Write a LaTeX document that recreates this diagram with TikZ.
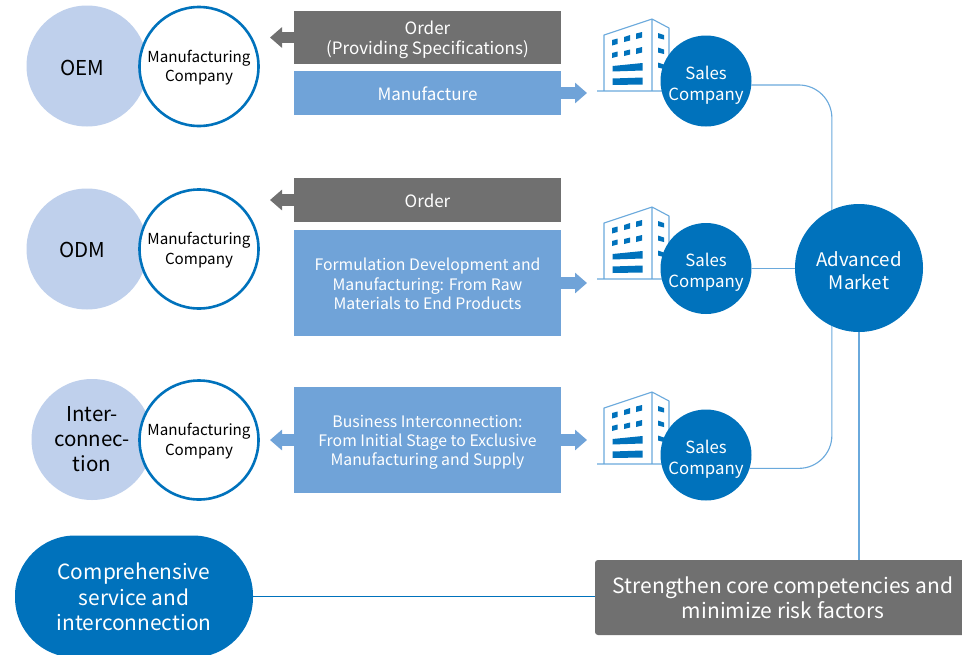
\documentclass[tikz,border=0pt]{standalone}
\usepackage{fontspec}
\setmainfont{Noto Sans CJK KR}
\usetikzlibrary{arrows.meta}
\definecolor{dkblue}{HTML}{0072BC}
\definecolor{ltblue}{HTML}{70A3D8}
\definecolor{linkblue}{HTML}{6AA9DC}
\definecolor{pale}{HTML}{BFD0EC}
\definecolor{greybox}{HTML}{707070}
\newcommand{\fsz}[2]{\fontsize{#1}{#2}\selectfont}
\newcommand{\factory}[1]{%
 \begin{scope}[yshift=-#1pt]
  \draw[linkblue,line width=1.1pt,line join=round]
    (604,91) -- (604,35) -- (652,19) -- (669,28) -- (669,80)
    (652,19) -- (652,91) (597,91) -- (672,91);
  \fill[dkblue] (612,40)--(617.5,38.5)--(617.5,44)--(612,45.5)--cycle
    (624,37)--(630,35)--(630,40.5)--(624,42)--cycle
    (636,33.5)--(642,32)--(642,37.5)--(636,39)--cycle
    (612,53)--(617.5,51.5)--(617.5,56.5)--(612,58)--cycle
    (624,51)--(630,49.5)--(630,54.5)--(624,56)--cycle
    (636,48.5)--(642,47)--(642,52.5)--(636,54)--cycle
    (658,33)--(664,35)--(664,39.5)--(658,38)--cycle
    (658,47.5)--(664,49.5)--(664,54)--(658,52.5)--cycle
    (658,62.5)--(664,64.5)--(664,69)--(658,67.5)--cycle
    (612.5,66)--(642.5,63)--(642.5,70.5)--(612.5,71.5)--cycle
    (612.5,78.5)--(642.5,77.5)--(642.5,84.5)--(612.5,85)--cycle;
 \end{scope}}
\tikzset{
 base/.style={inner sep=0pt,align=center,text=white},
 dn/.style 2 args={execute at begin node={\rule{0pt}{\dimexpr.78em+#2\baselineskip+2\dimexpr#1\relax\relax}}},
 pale circle/.style={base,circle,fill=pale,minimum size=#1,text=black,font=\fsz{20.5}{25}},
 maker/.style={base,circle,draw=dkblue,line width=2.6pt,fill=white,minimum size=119pt,text=black,font=\fsz{15.2}{19.5},dn={1.5pt}{1}},
 sales/.style={base,circle,fill=dkblue,minimum size=91pt,font=\fsz{16.8}{21},dn={4pt}{1}},
 greyrect/.style={base,fill=greybox,minimum width=267pt},
 bluerect/.style={base,fill=ltblue,minimum width=267pt},
 blockleft/.style={greybox,line width=11.5pt,-{Triangle[length=12pt,width=20pt]}},
 blockright/.style={ltblue,line width=11.5pt,-{Triangle[length=12pt,width=20pt]}},
 blockleftblue/.style={blockright},
 link/.style={linkblue,line width=1.1pt,rounded corners=33pt},
 straight/.style={dkblue,line width=1pt},
}
\begin{document}
\begin{tikzpicture}[x=1pt,y=-1pt]
\clip (0,0) rectangle (962,654);
\fill[white] (0,0) rectangle (962,654);
% factories
\factory{0}\factory{188}\factory{373}
% left circles
\node[pale circle=121pt,dn={2pt}{0}] (oem) at (87,66) {OEM\hspace*{9pt}};
\node[maker] (m1) at (199,66.5) {Manufacturing\\Company};
\node[pale circle=121pt,dn={1pt}{0}] (odm) at (87,249) {ODM\hspace*{9pt}};
\node[maker] (m2) at (199,249) {Manufacturing\\Company};
\node[pale circle=121pt] (inter) at (92,439.5) {Inter-\\connec-\\tion};
\node[maker] (m3) at (199,440) {Manufacturing\\Company};
% boxes
\node[greyrect,minimum height=53pt,font=\fsz{17}{20},dn={2pt}{1}] (o1) at (427.5,37.5) {Order\\(Providing Specifications)};
\node[bluerect,minimum height=44pt,font=\fsz{17}{20},dn={.5pt}{0}] (b1) at (427.5,93) {Manufacture};
\node[greyrect,minimum height=44pt,font=\fsz{17}{20},dn={.5pt}{0}] (o2) at (427.5,200) {Order};
\node[bluerect,minimum height=106pt,font=\fsz{15.8}{19.5},dn={1pt}{2}] (b2) at (427.5,283) {Formulation Development and\\Manufacturing: From Raw\\Materials to End Products};
\node[bluerect,minimum height=106pt,font=\fsz{15.8}{19},dn={2.5pt}{2}] (b3) at (427.5,440) {Business Interconnection:\\From Initial Stage to Exclusive\\Manufacturing and Supply};
% sales and market
\node[sales] (s1) at (706,81) {Sales\\Company};
\node[sales] (s2) at (706,268.5) {Sales\\Company};
\node[sales] (s3) at (706,455) {Sales\\Company};
\node[base,circle,fill=dkblue,minimum size=128pt,font=\fsz{18.7}{23},dn={2.5pt}{1}] (adv) at (859,268) {Advanced\\Market};
\node[base,fill=dkblue,minimum width=238pt,minimum height=122pt,rounded corners=60pt,font=\fsz{20.9}{25.5},dn={.5pt}{2}] (comp) at (134,596.5) {Comprehensive\\service and\\interconnection};
\node[base,fill=greybox,minimum width=376pt,minimum height=75pt,rounded corners=3pt,font=\fsz{21}{25}] (core) at (783,597.5) {Strengthen core competencies and\\minimize risk factors};
% free ends of the block arrows
\coordinate (t1) at (270,37.5);
\coordinate (t2) at (587,93);
\coordinate (t3) at (270,200);
\coordinate (t4) at (587,283);
\coordinate (t5) at (270,440);
\coordinate (t6) at (587,440);
\draw[blockleft] (o1.west) -- (t1);
\draw[blockright] (b1.east) -- (t2);
\draw[blockleft] (o2.west) -- (t3);
\draw[blockright] (b2.east) -- (t4);
\draw[blockleftblue] (b3.west) -- (t5);
\draw[blockright] (b3.east) -- (t6);
% connectors
\draw[link] (s1.-5) -- (s1.-5 -| adv.115) -- (adv.115);
\draw[link] (s3.-17) -- (s3.-17 -| adv.245) -- (adv.245);
\draw[link] (s2.east) -- (adv.west |- s2.east);
\draw[link] (adv.south) -- (adv.south |- core.north);
\draw[straight] (comp.east) -- (comp.east -| core.west);
\end{tikzpicture}
\end{document}
